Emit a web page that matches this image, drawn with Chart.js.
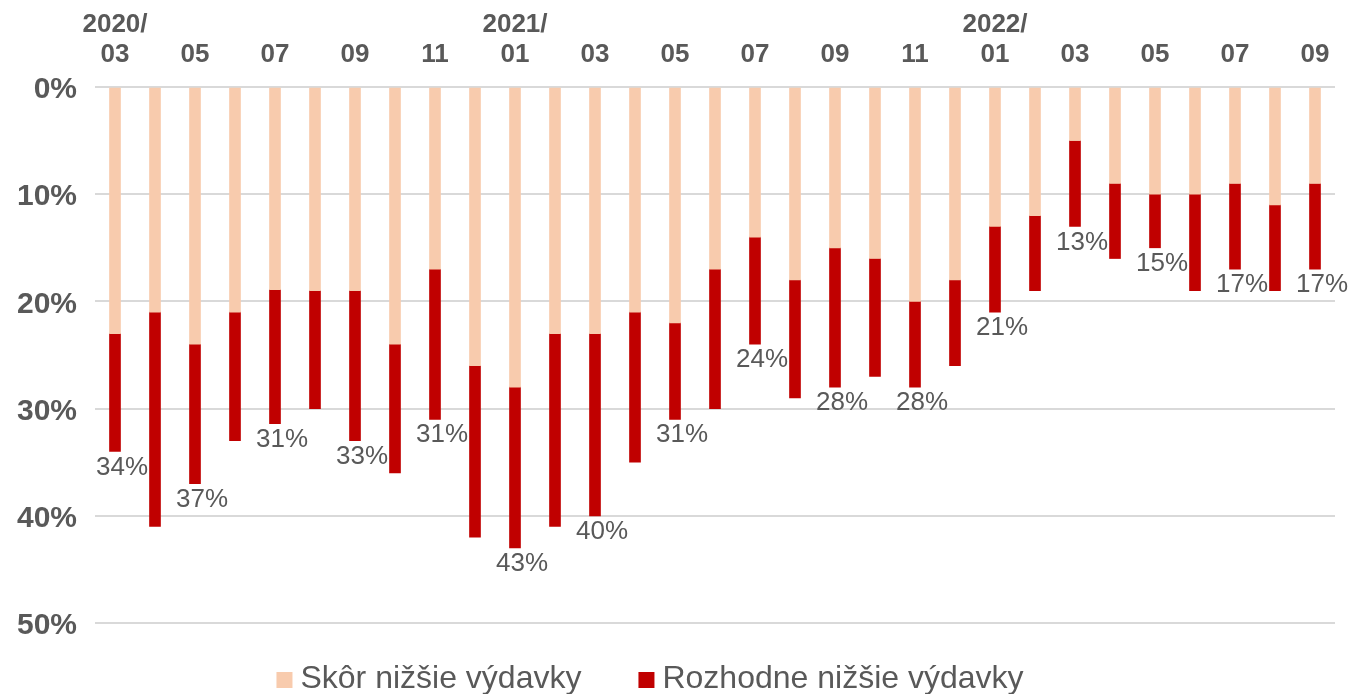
<!DOCTYPE html>
<html>
<head>
<meta charset="utf-8">
<script src="https://cdn.jsdelivr.net/npm/chart.js@4/dist/chart.umd.min.js"></script>
<style>
  html, body { margin: 0; padding: 0; background: #fff; }
  #wrap { width: 1350px; height: 694px; position: relative; }
</style>
</head>
<body>
<div id="wrap"><canvas id="barChart"></canvas></div>
<script>
var months = ['2020/03','2020/04','2020/05','2020/06','2020/07','2020/08','2020/09','2020/10','2020/11','2020/12',
              '2021/01','2021/02','2021/03','2021/04','2021/05','2021/06','2021/07','2021/08','2021/09','2021/10','2021/11','2021/12',
              '2022/01','2022/02','2022/03','2022/04','2022/05','2022/06','2022/07','2022/08','2022/09'];
// Skôr nižšie výdavky
var skor = [23, 21, 24, 21, 18.9, 19, 19, 24, 17, 26, 28, 23, 23, 21, 22, 17, 14, 18, 15, 16, 20, 18, 13, 12, 5, 9, 10, 10, 9, 11, 9];
// Rozhodne nižšie výdavky
var rozhodne = [11, 20, 13, 12, 12.5, 11, 14, 12, 14, 16, 15, 18, 17, 14, 9, 13, 10, 11, 13, 11, 8, 8, 8, 7, 8, 7, 5, 9, 8, 8, 8];
var yTicks = [0, 10, 20, 30, 40, 50];

var grey = '#595959';

// sum labels under every other bar
var sumLabels = {
    id: 'sumLabels',
    afterDatasetsDraw: function(chart) {
        var ctx = chart.ctx;
        var meta = chart.getDatasetMeta(1);
        ctx.save();
        ctx.font = '26px "Liberation Sans", Arial, sans-serif';
        ctx.fillStyle = grey;
        ctx.textAlign = 'center';
        ctx.textBaseline = 'top';
        meta.data.forEach(function(bar, i) {
            if (i % 2 !== 0) return;
            var total = skor[i] + rozhodne[i];
            ctx.fillText(Math.round(total) + '%', bar.x + 7, bar.y + 3);
        });
        ctx.restore();
    }
};

// legend at the bottom
var bottomLegend = {
    id: 'bottomLegend',
    afterDraw: function(chart) {
        var ctx = chart.ctx;
        ctx.save();
        ctx.font = '32px "Liberation Sans", Arial, sans-serif';
        ctx.textBaseline = 'alphabetic';
        var items = chart.data.datasets;
        var box = 16, gapText = 8, gapItem = 57;
        var total = 0;
        items.forEach(function(ds, i) {
            total += box + gapText + ctx.measureText(ds.label).width;
            if (i < items.length - 1) total += gapItem;
        });
        var x = 650 - total / 2;
        var y = 688;
        items.forEach(function(ds) {
            ctx.fillStyle = ds.backgroundColor;
            ctx.fillRect(x, 672, box, box);
            x += box + gapText;
            ctx.fillStyle = grey;
            ctx.fillText(ds.label, x, y);
            x += ctx.measureText(ds.label).width + gapItem;
        });
        ctx.restore();
    }
};

var barChart = new Chart(document.getElementById('barChart'), {
    type: 'bar',
    data: {
        labels: months,
        datasets: [{
            label: 'Skôr nižšie výdavky',
            data: skor,
            backgroundColor: '#F8CBAD',
            barThickness: 11
        }, {
            label: 'Rozhodne nižšie výdavky',
            data: rozhodne,
            backgroundColor: '#C00000',
            barThickness: 11
        }]
    },
    options: {
        responsive: true,
        maintainAspectRatio: false,
        animation: false,
        layout: { padding: { left: 0, right: 15, top: 0, bottom: 71 } },
        plugins: {
            legend: { display: false },
            tooltip: { enabled: false }
        },
        scales: {
            x: {
                position: 'top',
                stacked: true,
                grid: { display: false, drawTicks: false },
                border: { display: false },
                afterFit: function(scale) { scale.height = 87; },
                ticks: {
                    autoSkip: false,
                    maxRotation: 0,
                    padding: 17,
                    color: grey,
                    font: { family: '"Liberation Sans", Arial, sans-serif', size: 26, weight: 'bold', lineHeight: 1.15 },
                    callback: function(value, index) {
                        if (index % 2 !== 0) return '';
                        var parts = months[index].split('/');
                        if (index === 0 || parts[1] === '01') return [parts[0] + '/', parts[1]];
                        return parts[1];
                    }
                }
            },
            y: {
                stacked: true,
                reverse: true,
                min: yTicks[0],
                max: yTicks[yTicks.length - 1],
                afterFit: function(scale) { scale.width = 95; },
                afterBuildTicks: function(scale) {
                    scale.ticks = yTicks.map(function(v) { return { value: v }; });
                },
                grid: { color: '#D9D9D9', lineWidth: 2, drawTicks: false },
                border: { display: false },
                ticks: {
                    padding: 18,
                    labelOffset: 3,
                    color: grey,
                    font: { family: '"Liberation Sans", Arial, sans-serif', size: 30, weight: 'bold' },
                    callback: function(v) { return v + '%'; }
                }
            }
        }
    },
    plugins: [sumLabels, bottomLegend]
});
</script>
</body>
</html>
